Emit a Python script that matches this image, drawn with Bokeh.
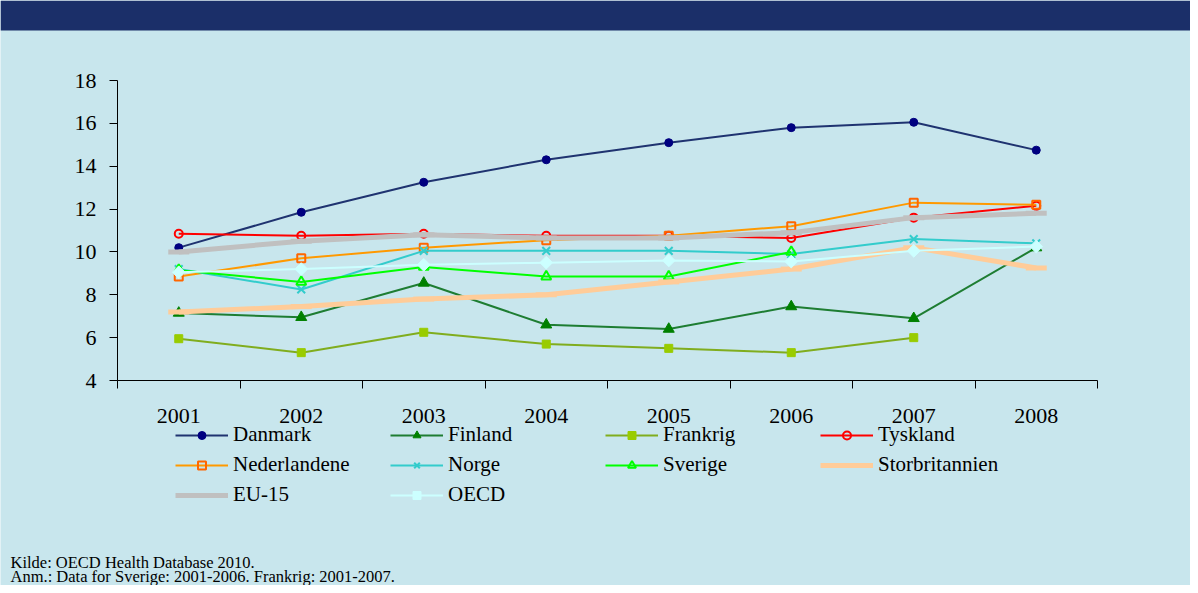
import numpy as np
from bokeh.plotting import figure
from bokeh.models import (Range1d, FixedTicker, Legend, LegendItem, Label, BoxAnnotation,
                          LinearAxis)
from bokeh.embed import file_html
from bokeh.resources import INLINE

nan = float("nan")

years = ["2001", "2002", "2003", "2004", "2005", "2006", "2007", "2008"]
danmark = [10.2, 11.85, 13.25, 14.3, 15.1, 15.8, 16.05, 14.75]
finland = [7.15, 6.95, 8.55, 6.6, 6.4, 7.45, 6.9, 10.2]
frankrig = [5.95, 5.3, 6.25, 5.7, 5.5, 5.3, 6.0, nan]
tyskland = [10.85, 10.75, 10.85, 10.75, 10.75, 10.65, 11.6, 12.15]
nederlandene = [8.85, 9.7, 10.2, 10.55, 10.75, 11.2, 12.3, 12.2]
norge = [9.2, 8.25, 10.05, 10.05, 10.05, 9.9, 10.6, 10.4]
sverige = [9.15, 8.6, 9.3, 8.85, 8.85, 10.0, nan, nan]
storbritannien = [7.2, 7.45, 7.8, 8.0, 8.6, 9.2, 10.2, 9.25]
eu15 = [10.0, 10.5, 10.8, 10.65, 10.65, 10.9, 11.6, 11.8]
oecd = [9.05, 9.2, 9.4, 9.5, 9.6, 9.55, 10.05, 10.25]

y_ticks = [4, 6, 8, 10, 12, 14, 16, 18]
Y_MIN, Y_MAX = 4, 18

source_text = "Kilde: OECD Health Database 2010."
note_text = "Anm.: Data for Sverige: 2001-2006. Frankrig: 2001-2007."

BG = "#c8e6ed"
NAVY = "#1b2f69"
FONT = "Liberation Serif"

# canvas geometry (pixels)
W, H = 1190, 585
PLOT_L, PLOT_R, PLOT_T, PLOT_B = 117, 1097, 80, 380
HEADER_H = 30

n = len(years)
xs = [i + 0.5 for i in range(n)]

# pixel -> data helpers so that the plot area sits at the right place on a full-size frame
px_x = (PLOT_R - PLOT_L) / n
px_y = (PLOT_B - PLOT_T) / (Y_MAX - Y_MIN)
def dx(px):
    return (px - PLOT_L) / px_x
def dy(py):
    return Y_MAX - (py - PLOT_T) / px_y

p = figure(width=W, height=H, x_range=Range1d(dx(0), dx(W)), y_range=Range1d(dy(H), dy(0)),
           output_backend="svg", toolbar_location=None, min_border=0,
           x_axis_location=None, y_axis_location=None,
           background_fill_color=BG, border_fill_color=BG, outline_line_color=None)
p.grid.visible = False

# header band
p.add_layout(BoxAnnotation(bottom=dy(HEADER_H), fill_color=NAVY, fill_alpha=1.0,
                           line_alpha=0, level="underlay"))

xaxis = LinearAxis(fixed_location=Y_MIN, bounds=(0, n),
                   ticker=FixedTicker(ticks=xs, minor_ticks=list(range(n + 1))),
                   major_label_overrides={x: y for x, y in zip(xs, years)},
                   major_tick_out=0, major_tick_in=0, minor_tick_out=8, minor_tick_in=0,
                   minor_tick_line_color="black", major_label_standoff=20)
yaxis = LinearAxis(fixed_location=0, bounds=(Y_MIN, Y_MAX),
                   ticker=FixedTicker(ticks=y_ticks),
                   major_tick_out=8, major_tick_in=0, minor_tick_line_color=None,
                   major_label_standoff=13)
for ax in (xaxis, yaxis):
    ax.axis_line_color = "black"
    ax.major_tick_line_color = "black"
    ax.major_label_text_font = FONT
    ax.major_label_text_font_size = "22px"
    ax.major_label_text_font_style = "normal"
    ax.major_label_text_color = "black"
p.add_layout(xaxis, "below")
p.add_layout(yaxis, "left")

series = [
    ("Danmark", danmark, dict(lc="#1f3370", lw=2, marker="circle", size=8, fc="#000080", mc="#000080", mw=1)),
    ("Finland", finland, dict(lc="#1e7d32", lw=2, marker="triangle", size=11, fc="#008000", mc="#008000", mw=1)),
    ("Frankrig", frankrig, dict(lc="#80ad1e", lw=2, marker="square", size=8, fc="#99cc00", mc="#99cc00", mw=1)),
    ("Tyskland", tyskland, dict(lc="#ff0000", lw=2, marker="circle", size=8, fc=None, mc="#ff0000", mw=2)),
    ("Nederlandene", nederlandene, dict(lc="#ff9900", lw=2, marker="square", size=8, fc=None, mc="#ff6600", mw=2)),
    ("Norge", norge, dict(lc="#33cccc", lw=2, marker="x", size=11, fc=None, mc="#33cccc", mw=2)),
    ("Sverige", sverige, dict(lc="#00ff00", lw=2, marker="triangle", size=10, fc=None, mc="#00ff00", mw=2)),
    ("Storbritannien", storbritannien, dict(lc="#ffcc99", lw=5, marker="dash", size=21, fc=None, mc="#ffcc99", mw=5)),
    ("EU-15", eu15, dict(lc="#c0c0c0", lw=5, marker="dash", size=21, fc=None, mc="#c0c0c0", mw=5)),
    ("OECD", oecd, dict(lc="#ccffff", lw=2, marker="square", size=9, fc="#ccffff", mc="#ccffff", mw=1, angle=np.pi / 4)),
]

items = []
for name, vals, st in series:
    lr = p.line(xs, vals, line_color=st["lc"], line_width=st["lw"])
    sr = p.scatter(xs, vals, marker=st["marker"], size=st["size"],
                   fill_color=st["fc"], line_color=st["mc"], line_width=st["mw"],
                   angle=st.get("angle", 0.0))
    items.append(LegendItem(label=name, renderers=[lr, sr]))

legend = Legend(items=items, location=(175, H - 507), ncols=4, orientation="horizontal",
                glyph_width=53, glyph_height=20, label_standoff=5, label_width=152,
                label_height=20, spacing=5, padding=0, margin=0,
                border_line_alpha=0, background_fill_alpha=0,
                label_text_font=FONT, label_text_font_size="21px",
                label_text_font_style="normal", label_text_color="black")
p.add_layout(legend)

p.add_layout(Label(x=dx(10), y=dy(562), text=source_text,
                   text_font=FONT, text_font_size="16.5px", text_color="black",
                   text_baseline="alphabetic"))
p.add_layout(Label(x=dx(10), y=dy(576), text=note_text,
                   text_font=FONT, text_font_size="16.5px", text_color="black",
                   text_baseline="alphabetic"))

open("out.html", "w").write(file_html(p, INLINE))
